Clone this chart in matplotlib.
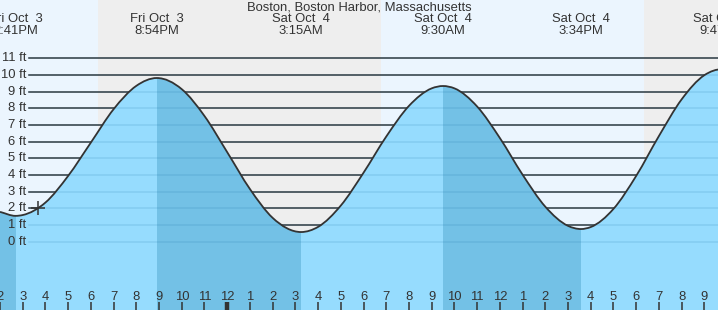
import matplotlib
matplotlib.use("Agg")
import matplotlib.pyplot as plt
from matplotlib.path import Path
from matplotlib.patches import PathPatch, Rectangle
import numpy as np

plt.rcParams['font.family'] = ['Liberation Sans', 'DejaVu Sans']

# ---- data ----
title = "Boston, Boston Harbor, Massachusetts"
# hours since Fri Oct 3 00:00
hours = [14.0, 14.683, 15, 16, 17, 18, 19, 20, 20.9, 22, 23, 24, 25, 26, 27.25,
         28, 29, 30, 31, 32, 33, 33.5, 34, 35, 36, 37, 38, 39, 39.567,
         40, 41, 42, 43, 44, 45, 45.78, 46.5]
heights = [1.79, 1.55, 1.60, 2.35, 3.95, 5.95, 7.95, 9.35, 9.82, 9.15, 7.54, 5.37, 3.16, 1.43, 0.58,
           0.89, 2.17, 4.14, 6.31, 8.15, 9.20, 9.34, 9.20, 8.11, 6.22, 4.02, 2.10, 0.95, 0.76,
           0.88, 1.97, 3.95, 6.34, 8.54, 9.99, 10.35, 10.15]
extreme_times = [14.683, 20.9, 27.25, 33.5, 39.567, 45.78]
extreme_types = ['L', 'H', 'L', 'H', 'L', 'H']
extreme_day = ["Fri Oct  3", "Fri Oct  3", "Sat Oct  4", "Sat Oct  4", "Sat Oct  4", "Sat Oct  4"]
extreme_clock = ["2:41PM", "8:54PM", "3:15AM", "9:30AM", "3:34PM", "9:47PM"]
night_spans = [(18.325, 30.754), (42.348, 50.0)]
tick_hours = list(range(14, 46))
tick_labels = [str((h - 1) % 12 + 1) for h in tick_hours]
ft_levels = list(range(0, 12))
now_time = 15.675
now_height = 2.0

# ---- style ----
DAY_BG = '#ebf5fe'
NIGHT_BG = '#eeeeee'
WATER = '#96dcfe'
WATER_DARK = '#73c1e6'
INK = '#333333'
FS = 9.4

fig = plt.figure(figsize=(7.18, 3.10), dpi=100)
ax = fig.add_axes([0, 0, 1, 1])
xmin, xmax = 14.065, 45.60
ymin, ymax = -4.097, 14.5
ax.set_xlim(xmin, xmax)
ax.set_ylim(ymin, ymax)
ax.set_axisbelow(False)
for s in ax.spines.values():
    s.set_visible(False)

ax.set_facecolor(DAY_BG)
for a, b in night_spans:
    ax.axvspan(a, b, color=NIGHT_BG, lw=0, zorder=0)

for lv in ft_levels:
    ax.axhline(lv, xmin=29 / 718, xmax=1, color=INK, lw=1.1, zorder=1)

# smooth curve through the points: cubic Hermite segments as Bezier path
t = np.array(hours, dtype=float)
h = np.array(heights, dtype=float)
n = len(t)
slope = np.zeros(n)
for i in range(n):
    if t[i] in extreme_times:
        slope[i] = 0.0
    elif i == 0:
        slope[i] = (h[1] - h[0]) / (t[1] - t[0])
    elif i == n - 1:
        slope[i] = (h[-1] - h[-2]) / (t[-1] - t[-2])
    else:
        dl, dr = t[i] - t[i - 1], t[i + 1] - t[i]
        sl, sr = (h[i] - h[i - 1]) / dl, (h[i + 1] - h[i]) / dr
        slope[i] = (sl * dr + sr * dl) / (dl + dr)

verts = [(t[0], h[0])]
codes = [Path.MOVETO]
for i in range(n - 1):
    d = t[i + 1] - t[i]
    verts += [(t[i] + d / 3, h[i] + slope[i] * d / 3),
              (t[i + 1] - d / 3, h[i + 1] - slope[i + 1] * d / 3),
              (t[i + 1], h[i + 1])]
    codes += [Path.CURVE4] * 3
line_path = Path(verts, codes)
fill_path = Path(verts + [(t[-1], ymin - 1), (t[0], ymin - 1), (t[0], h[0])],
                 codes + [Path.LINETO, Path.LINETO, Path.CLOSEPOLY])

ax.add_patch(PathPatch(fill_path, facecolor=WATER, lw=0, zorder=2))
falling = []
prev_high = xmin - 1
for et, ty in zip(extreme_times, extreme_types):
    if ty == 'H':
        prev_high = et
    else:
        falling.append((prev_high, et))
for a, b in falling:
    rect = Rectangle((a, ymin - 1), b - a, ymax - ymin + 2, transform=ax.transData)
    p = PathPatch(fill_path, facecolor=WATER_DARK, lw=0, zorder=2.1)
    ax.add_patch(p)
    p.set_clip_path(rect)

for lv in ft_levels:
    ax.axhline(lv, xmin=29 / 718, xmax=1, color='#2a7fb0', alpha=0.18, lw=1.1, zorder=3)

ax.add_patch(PathPatch(line_path, facecolor='none', edgecolor=INK, lw=1.3, zorder=4))
ax.plot([now_time], [now_height], marker='+', ms=10, mew=1.1, color=INK, zorder=5)

for lv in ft_levels:
    ax.text(26 / 718, lv, f"{lv} ft", transform=ax.get_yaxis_transform(),
            ha='right', va='center', fontsize=FS, color=INK, zorder=6)

ax.set_xticks(tick_hours)
ax.set_xticklabels(tick_labels)
ax.tick_params(axis='x', direction='in', length=5.8, width=1.1, color=INK,
               labelsize=FS, labelcolor=INK, pad=-13.5)
ax.set_yticks([])
for tk, hr in zip(ax.xaxis.get_major_ticks(), tick_hours):
    if hr % 24 == 0:
        tk.tick1line.set_markeredgewidth(3.2)

trans = ax.get_xaxis_transform()
for et, d, c in zip(extreme_times, extreme_day, extreme_clock):
    ax.text(et, 1 - 19.5 / 310, d, transform=trans, ha='center', va='center',
            fontsize=FS, color=INK, zorder=6)
    ax.text(et, 1 - 31.5 / 310, c, transform=trans, ha='center', va='center',
            fontsize=FS, color=INK, zorder=6)
ax.text(0.5, 1 - 7.5 / 310, title, transform=ax.transAxes, ha='center', va='center',
        fontsize=FS, color=INK, zorder=6)

fig.savefig('out.png', dpi=100)
